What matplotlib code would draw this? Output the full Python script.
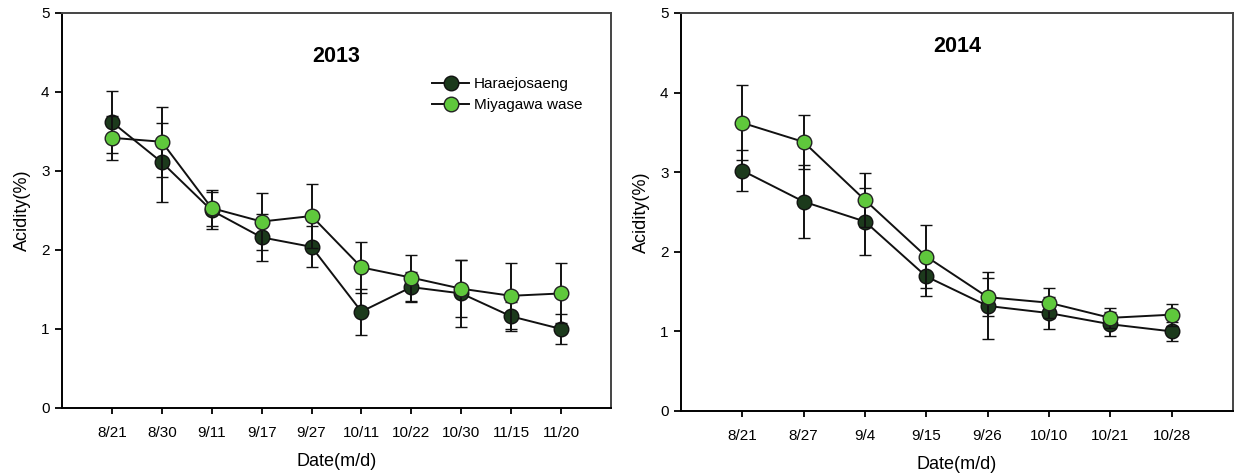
import matplotlib
matplotlib.use("Agg")
import matplotlib.pyplot as plt
import numpy as np

plt.rcParams['font.family'] = ['Liberation Sans', 'DejaVu Sans']

# 2013 season
dates_2013 = ['8/21', '8/30', '9/11', '9/17', '9/27', '10/11', '10/22', '10/30', '11/15', '11/20']
hara_2013 = [3.62, 3.11, 2.50, 2.16, 2.04, 1.22, 1.53, 1.45, 1.16, 1.00]
hara_err_2013 = [0.39, 0.50, 0.24, 0.30, 0.26, 0.29, 0.19, 0.42, 0.18, 0.19]
miya_2013 = [3.42, 3.37, 2.53, 2.36, 2.43, 1.78, 1.65, 1.51, 1.42, 1.45]
miya_err_2013 = [0.28, 0.44, 0.23, 0.36, 0.40, 0.32, 0.29, 0.36, 0.42, 0.38]

# 2014 season
dates_2014 = ['8/21', '8/27', '9/4', '9/15', '9/26', '10/10', '10/21', '10/28']
hara_2014 = [3.02, 2.63, 2.38, 1.69, 1.32, 1.23, 1.09, 1.00]
hara_err_2014 = [0.26, 0.46, 0.42, 0.24, 0.42, 0.20, 0.15, 0.12]
miya_2014 = [3.62, 3.38, 2.65, 1.94, 1.43, 1.36, 1.17, 1.21]
miya_err_2014 = [0.47, 0.34, 0.34, 0.40, 0.24, 0.19, 0.13, 0.14]

DARK = '#1c3a1c'
LIGHT = '#5fc83c'


def draw_panel(ax, dates, hara, hara_err, miya, miya_err, year, title_y):
    x = np.arange(len(dates))
    ax.errorbar(x, hara, yerr=hara_err, color='#111111', lw=1.4, elinewidth=1.4,
                capsize=4.5, capthick=1.4, marker='o', ms=10.5, mfc=DARK, mec='#111111',
                mew=1.0, label='Haraejosaeng', zorder=3)
    ax.errorbar(x, miya, yerr=miya_err, color='#111111', lw=1.4, elinewidth=1.4,
                capsize=4.5, capthick=1.4, marker='o', ms=10.5, mfc=LIGHT, mec='#222222',
                mew=1.0, label='Miyagawa wase', zorder=4)
    ax.set_xlim(-1, len(dates))
    ax.set_ylim(0, 5)
    ax.set_xticks(x)
    ax.set_xticklabels(dates, fontsize=11)
    ax.set_yticks(range(6))
    ax.tick_params(axis='y', labelsize=11, length=5, width=1.3, pad=4)
    ax.tick_params(axis='x', length=4, width=1.3, pad=9)
    ax.set_xlabel('Date(m/d)', fontsize=13, labelpad=9)
    ax.set_ylabel('Acidity(%)', fontsize=13, labelpad=7)
    for side in ['left', 'bottom']:
        ax.spines[side].set_linewidth(1.4)
        ax.spines[side].set_color('black')
    for side in ['top', 'right']:
        ax.spines[side].set_linewidth(1.4)
        ax.spines[side].set_color('#444444')
    ax.text(0.5, title_y, year, transform=ax.transAxes, ha='center', va='center',
            fontsize=15.5, fontweight='bold')


fig = plt.figure(figsize=(12.37, 4.76), dpi=100)
ax1 = fig.add_axes([0.0501, 0.1429, 0.4438, 0.8298])
ax2 = fig.add_axes([0.5505, 0.1366, 0.4462, 0.8361])

draw_panel(ax1, dates_2013, hara_2013, hara_err_2013, miya_2013, miya_err_2013, '2013', 0.89)
draw_panel(ax2, dates_2014, hara_2014, hara_err_2014, miya_2014, miya_err_2014, '2014', 0.915)

handles, labels = ax1.get_legend_handles_labels()
handles = [h[0] for h in handles]
ax1.legend(handles, labels, loc='upper left', bbox_to_anchor=(0.655, 0.865), frameon=False,
           fontsize=11, handlelength=2.4, handletextpad=0.3, labelspacing=0.45,
           borderpad=0.2)

fig.savefig('out.png', dpi=100)
